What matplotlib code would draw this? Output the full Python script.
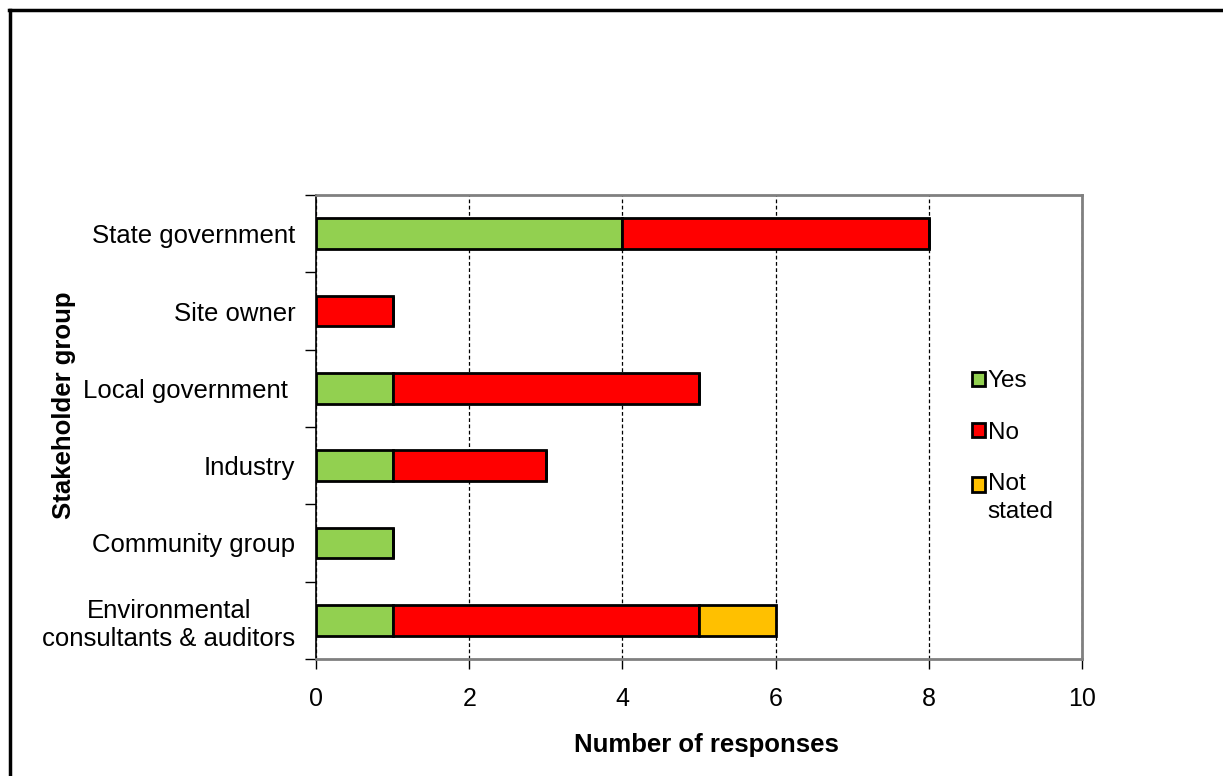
import matplotlib.pyplot as plt
import numpy as np
from matplotlib.lines import Line2D

plt.rcParams['font.family'] = ['Liberation Sans', 'DejaVu Sans']

# stakeholder groups, top to bottom
groups = ['State government', 'Site owner', 'Local government ', 'Industry',
          'Community group', 'Environmental\nconsultants & auditors']
yes = [4, 0, 1, 1, 1, 1]
no = [4, 1, 4, 2, 0, 4]
not_stated = [0, 0, 0, 0, 0, 1]

xticks = [0, 2, 4, 6, 8, 10]

fig = plt.figure(figsize=(12.23, 7.76), dpi=100)
ax = fig.add_axes([0.2584, 0.1508, 0.6263, 0.5979])

pos = np.arange(len(groups))
h = 0.4
yes = np.array(yes)
no = np.array(no)
not_stated = np.array(not_stated)

ax.barh(pos, yes, height=h, color='#92d050', edgecolor='black', linewidth=2, label='Yes', zorder=3)
ax.barh(pos, no, left=yes, height=h, color='#ff0000', edgecolor='black', linewidth=2, label='No', zorder=3)
ax.barh(pos, not_stated, left=yes + no, height=h, color='#ffc000', edgecolor='black', linewidth=2,
        label='Not\nstated', zorder=3)

ax.set_xlim(0, 10)
ax.set_ylim(len(groups) - 0.5, -0.5)
ax.set_xticks(xticks)
ax.set_xticklabels([str(t) for t in xticks], fontsize=18)
ax.tick_params(axis='x', length=7, width=1, direction='out', pad=13, color='black')

# group labels sit between the boundary ticks
ax.set_yticks(np.arange(-0.5, len(groups), 1.0))
ax.set_yticklabels([])
ax.set_yticks(pos, minor=True)
ax.set_yticklabels(groups, minor=True, fontsize=18.5, ha='right', multialignment='center',
                   linespacing=1.2)
ax.tick_params(axis='y', which='major', length=8, width=1, direction='out')
ax.tick_params(axis='y', which='minor', length=0, pad=15)

ax.grid(axis='x', linestyle=(0, (3, 2)), color='black', linewidth=0.9, zorder=0)

for s in ['top', 'right', 'bottom']:
    ax.spines[s].set_color('#808080')
    ax.spines[s].set_linewidth(2)
ax.spines['left'].set_color('black')
ax.spines['left'].set_linewidth(1.2)

ax.set_xlabel('Number of responses', fontsize=18.5, fontweight='bold')
ax.set_ylabel('Stakeholder group', fontsize=18.5, fontweight='bold')
ax.xaxis.set_label_coords(0.51, -0.159)
ax.yaxis.set_label_coords(-0.314, 0.547)

leg = ax.legend(loc='upper left', bbox_to_anchor=(0.84, 0.648), frameon=False, fontsize=17.5,
                borderpad=0, handlelength=0.55, handleheight=0.55, handletextpad=0.12,
                labelspacing=1.2)
for p in leg.get_patches():
    p.set_linewidth(2)
for t in leg.get_texts():
    t.set_linespacing(1.35)
# keep the two-line entry's swatch level with its first line
last = leg.get_patches()[-1]
last.set_y(last.get_y() + 9.5)

# outer chart border
fig.add_artist(Line2D([9 / 1223, 1], [1 - 10 / 776, 1 - 10 / 776], color='black', linewidth=2.5,
                      transform=fig.transFigure))
fig.add_artist(Line2D([10 / 1223, 10 / 1223], [0, 1 - 10 / 776], color='black', linewidth=2.5,
                      transform=fig.transFigure))

fig.savefig('out.png', dpi=100)
